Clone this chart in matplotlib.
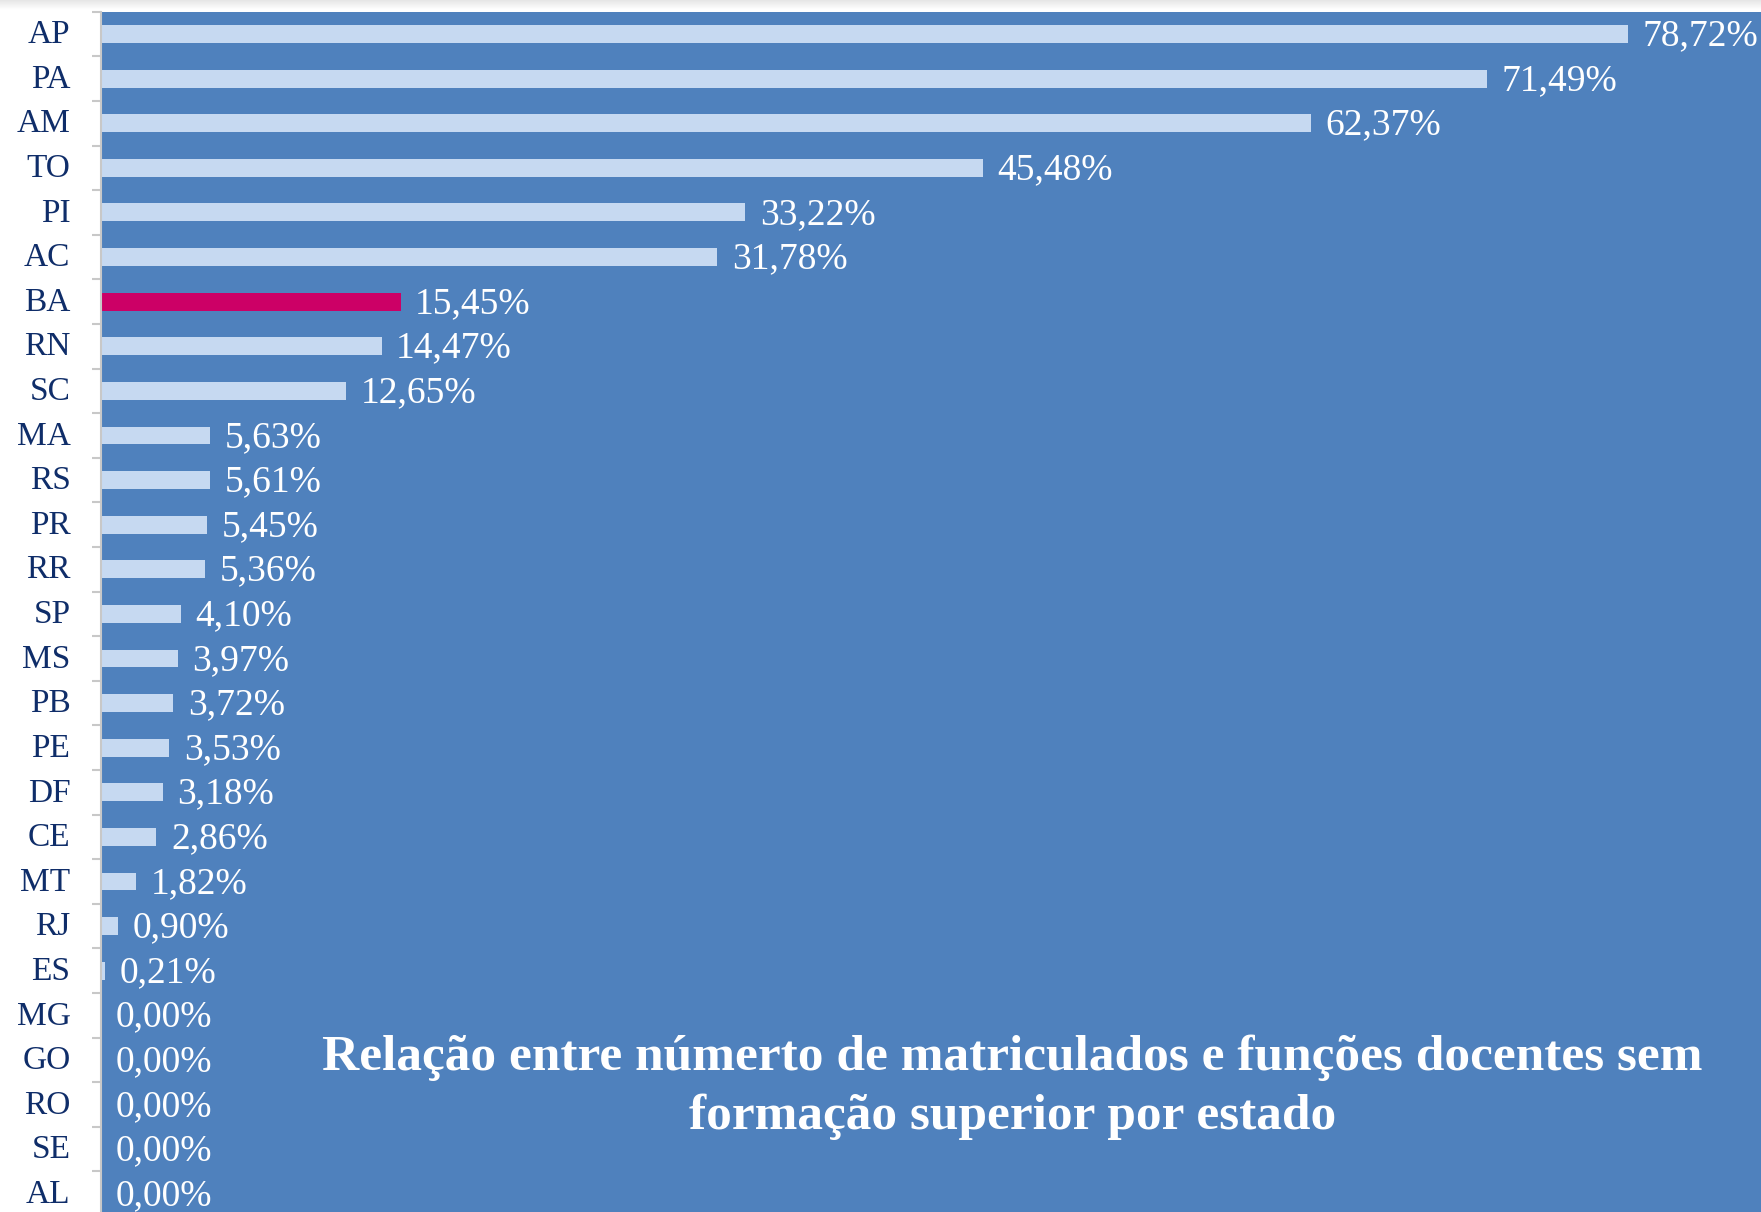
import numpy as np
import matplotlib
matplotlib.use("Agg")
import matplotlib.pyplot as plt
import matplotlib.transforms as mtransforms

estados = ["AP", "PA", "AM", "TO", "PI", "AC", "BA", "RN", "SC", "MA", "RS", "PR",
           "RR", "SP", "MS", "PB", "PE", "DF", "CE", "MT", "RJ", "ES", "MG", "GO",
           "RO", "SE", "AL"]
valores = [78.72, 71.49, 62.37, 45.48, 33.22, 31.78, 15.45, 14.47, 12.65, 5.63, 5.61,
           5.45, 5.36, 4.10, 3.97, 3.72, 3.53, 3.18, 2.86, 1.82, 0.90, 0.21, 0.00,
           0.00, 0.00, 0.00, 0.00]
destaque = "BA"
titulo = "Relação entre númerto de matriculados e funções docentes sem\nformação superior por estado"

azul_fundo = "#4F81BD"
azul_claro = "#C6D9F1"
magenta = "#CC0066"
navy = "#0F2D69"

plt.rcParams['font.family'] = ['Liberation Serif', 'DejaVu Serif']

W, H = 1761, 1212
fig = plt.figure(figsize=(W / 100, H / 100), dpi=100)
fig.patch.set_facecolor("white")

# faint grey shadow along the top edge
sh = fig.add_axes([0, 1 - 10 / H, 1, 10 / H])
grad = np.linspace(0.90, 1.0, 20).reshape(-1, 1)
sh.imshow(grad, aspect="auto", cmap="gray", vmin=0, vmax=1, extent=[0, 1, 0, 1])
sh.axis("off")

left = 101 / W
top = 1 - 11.7 / H
bottom = -4 / H
ax = fig.add_axes([left, bottom, 1 - left, top - bottom])
ax.set_facecolor(azul_fundo)

y = np.arange(len(estados))
cores = [magenta if e == destaque else azul_claro for e in estados]
ax.barh(y, valores, height=0.40, color=cores)

for yi, v in zip(y, valores):
    txt = f"{v:.2f}%".replace(".", ",")
    ax.annotate(txt, (v, yi), xytext=(10.5, -1.5), textcoords="offset points",
                va="center", ha="left", color="white", fontsize=27)

ax.set_xlim(0, 85.6)
ax.set_ylim(len(estados) - 0.5, -0.5)

ax.set_yticks(y)
ax.set_yticklabels(estados, color=navy, fontsize=24)
ax.tick_params(axis="y", which="major", length=0, pad=22)
ax.set_yticks(np.arange(-0.5, len(estados), 1), minor=True)
ax.tick_params(axis="y", which="minor", length=6.5, width=1.5, color="#C8C8C8")
ax.set_xticks([])

shift = mtransforms.ScaledTranslation(0, 2.5 / 100, fig.dpi_scale_trans)
for lbl in ax.get_yticklabels():
    lbl.set_transform(lbl.get_transform() + shift)

for s in ["top", "right", "bottom"]:
    ax.spines[s].set_visible(False)
ax.spines["left"].set_color("#C8C8C8")
ax.spines["left"].set_linewidth(1.5)

ax.text(0.549, 0.107, titulo, transform=ax.transAxes, ha="center", va="center",
        color="white", fontsize=37, fontweight="bold", linespacing=1.35)

fig.savefig("out.png", dpi=100, facecolor=fig.get_facecolor())
